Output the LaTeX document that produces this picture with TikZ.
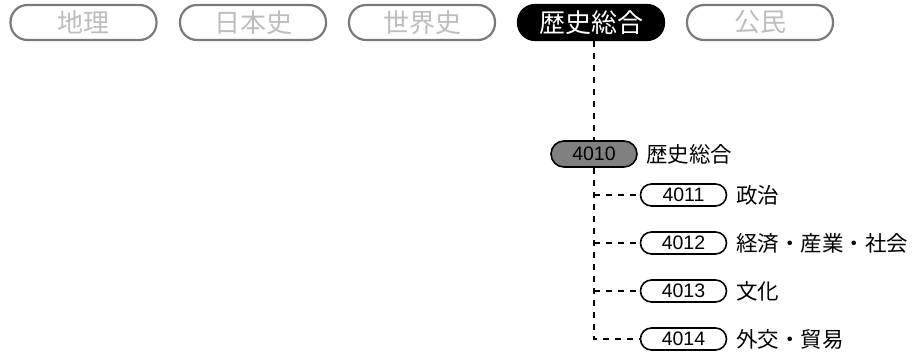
\documentclass[tikz,border=0pt]{standalone}
\usepackage{fontspec}
\setmainfont{Liberation Sans}
\newfontfamily\jp{Noto Sans CJK JP}
\definecolor{tabgray}{HTML}{7A7A7A}
\definecolor{tabtext}{HTML}{BDBDBD}
\definecolor{codegray}{HTML}{808080}
\begin{document}
\begin{tikzpicture}[x=1pt,y=-1pt,
  tab/.style={draw=tabgray,line width=2.2pt,rounded corners=17pt,minimum width=146pt,minimum height=35pt,inner sep=0pt,text=tabtext,font=\jp\fontsize{26}{26}\selectfont},
  tabon/.style={tab,draw=black,fill=black,text=white},
  code/.style={draw,line width=1.6pt,rounded corners=11pt,minimum width=86pt,minimum height=22pt,inner sep=0pt,font=\fontsize{19.5}{19.5}\selectfont},
  lbl/.style={anchor=west,inner sep=0pt,font=\jp\fontsize{21.5}{21.5}\selectfont},
  link/.style={draw,line width=1.6pt,dash pattern=on 6pt off 6pt}]
\path[use as bounding box] (0,0) rectangle (914,359);

\node[tab] (geo) at (83.5,22.5) {地理};
\node[tab] (jph) at (253,22.5) {日本史};
\node[tab] (wdh) at (422,22.5) {世界史};
\node[tabon] (hist) at (591,22.5) {歴史総合};
\node[tab] (civ) at (760,22.5) {公民};

\node[code,fill=codegray,minimum height=26pt,rounded corners=13pt] (c4010) at (594,154) {4010};
\node[lbl] (l4010) at (646,154) {歴史総合};

\node[code] (c4011) at (683.5,195) {4011};
\node[code] (c4012) at (683.5,243) {4012};
\node[code] (c4013) at (683.5,291) {4013};
\node[code] (c4014) at (683.5,339) {4014};
\node[lbl] (l4011) at (736,195) {政治};
\node[lbl] (l4012) at (736,243) {経済・産業・社会};
\node[lbl] (l4013) at (736,291) {文化};
\node[lbl] (l4014) at (736,339) {外交・貿易};

\path[link] (hist.south -| c4010.south) -- (c4010.north);
\path[link] (c4010.south) |- (c4014.west);
\path[link] (c4010.south |- c4011.west) -- (c4011.west);
\path[link] (c4010.south |- c4012.west) -- (c4012.west);
\path[link] (c4010.south |- c4013.west) -- (c4013.west);
\end{tikzpicture}
\end{document}
